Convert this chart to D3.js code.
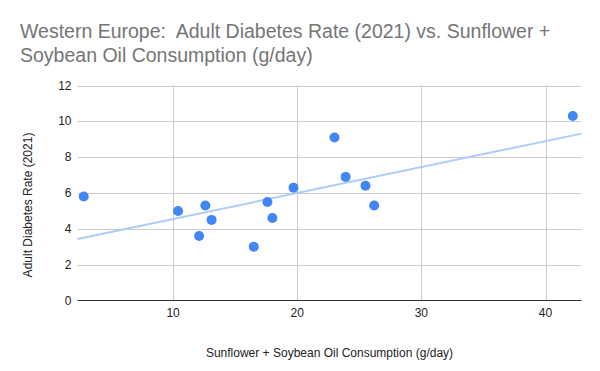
<!DOCTYPE html>
<html>
<head>
<meta charset="utf-8">
<script src="https://cdn.jsdelivr.net/npm/d3@7"></script>
<style>
  body { margin: 0; background: #fff; }
  text { font-family: "Liberation Sans", Arial, sans-serif; white-space: pre; }
</style>
</head>
<body>
<div id="chart"></div>
<script>
var width = 600, height = 371;
var margin = {top: 85.5, right: 18.5, bottom: 70.5, left: 77.5};

// sunflower + soybean oil (g/day), adult diabetes rate (2021)
var oilConsumption = [2.8, 10.4, 12.6, 12.1, 13.1, 16.5, 17.6, 18.0, 19.7, 23.0, 23.9, 25.5, 26.2, 42.2];
var diabetesRate   = [5.8, 5.0, 5.3, 3.6, 4.5, 3.0, 5.5, 4.6, 6.3, 9.1, 6.9, 6.4, 5.3, 10.3];
var xExtent = [2.3, 42.9];
var xTicks = [10, 20, 30, 40];
var yTicks = [0, 2, 4, 6, 8, 10, 12];

var points = oilConsumption.map(function (d, i) { return {x: d, y: diabetesRate[i]}; });

var svg = d3.select("#chart").append("svg")
    .attr("width", width)
    .attr("height", height);

var x = d3.scaleLinear().domain(xExtent).range([margin.left, width - margin.right]);
var y = d3.scaleLinear().domain([0, 12]).range([height - margin.bottom, margin.top]);

// title
var title = svg.append("text")
    .attr("x", 20)
    .attr("fill", "#757575")
    .style("font-size", "19.5px");
title.append("tspan").attr("x", 20).attr("y", 38).text("Western Europe:  Adult Diabetes Rate (2021) vs. Sunflower +");
title.append("tspan").attr("x", 20).attr("y", 61.5).text("Soybean Oil Consumption (g/day)");

// grid
svg.append("g").selectAll("line")
  .data(yTicks.slice(1))
  .enter().append("line")
    .attr("x1", x.range()[0]).attr("x2", x.range()[1])
    .attr("y1", function (d) { return Math.round(y(d)) + 0.5; })
    .attr("y2", function (d) { return Math.round(y(d)) + 0.5; })
    .attr("stroke", "#cccccc");

svg.append("g").selectAll("line")
  .data(xTicks)
  .enter().append("line")
    .attr("x1", function (d) { return Math.round(x(d)) + 0.5; })
    .attr("x2", function (d) { return Math.round(x(d)) + 0.5; })
    .attr("y1", y.range()[1]).attr("y2", y.range()[0])
    .attr("stroke", "#cccccc");

// axes labels
svg.append("g").selectAll("text")
  .data(yTicks)
  .enter().append("text")
    .attr("x", margin.left - 6)
    .attr("y", function (d) { return y(d) + 4; })
    .attr("text-anchor", "end")
    .attr("fill", "#222")
    .style("font-size", "12px")
    .text(function (d) { return d; });

svg.append("g").selectAll("text")
  .data(xTicks)
  .enter().append("text")
    .attr("x", function (d) { return x(d); })
    .attr("y", 317)
    .attr("text-anchor", "middle")
    .attr("fill", "#222")
    .style("font-size", "12px")
    .text(function (d) { return d; });

svg.append("line")
    .attr("x1", x.range()[0]).attr("x2", x.range()[1])
    .attr("y1", y(0)).attr("y2", y(0))
    .attr("stroke", "#333");

svg.append("text")
    .attr("x", (x.range()[0] + x.range()[1]) / 2)
    .attr("y", 357)
    .attr("text-anchor", "middle")
    .attr("fill", "#222")
    .style("font-size", "12px")
    .text("Sunflower + Soybean Oil Consumption (g/day)");

svg.append("text")
    .attr("transform", "translate(32,205) rotate(-90)")
    .attr("text-anchor", "middle")
    .attr("fill", "#222")
    .style("font-size", "12px")
    .text("Adult Diabetes Rate (2021)");

// linear trendline (least squares)
var mx = d3.mean(points, function (d) { return d.x; });
var my = d3.mean(points, function (d) { return d.y; });
var slope = d3.sum(points, function (d) { return (d.x - mx) * (d.y - my); }) /
            d3.sum(points, function (d) { return (d.x - mx) * (d.x - mx); });
var icpt = my - slope * mx;

svg.append("line")
    .attr("x1", x(xExtent[0])).attr("y1", y(icpt + slope * xExtent[0]))
    .attr("x2", x(xExtent[1])).attr("y2", y(icpt + slope * xExtent[1]))
    .attr("stroke", "#aecbfa")
    .attr("stroke-width", 2);

// points
svg.append("g").selectAll("circle")
  .data(points)
  .enter().append("circle")
    .attr("cx", function (d) { return x(d.x); })
    .attr("cy", function (d) { return y(d.y); })
    .attr("r", 5)
    .attr("fill", "#4285f4");
</script>
</body>
</html>
